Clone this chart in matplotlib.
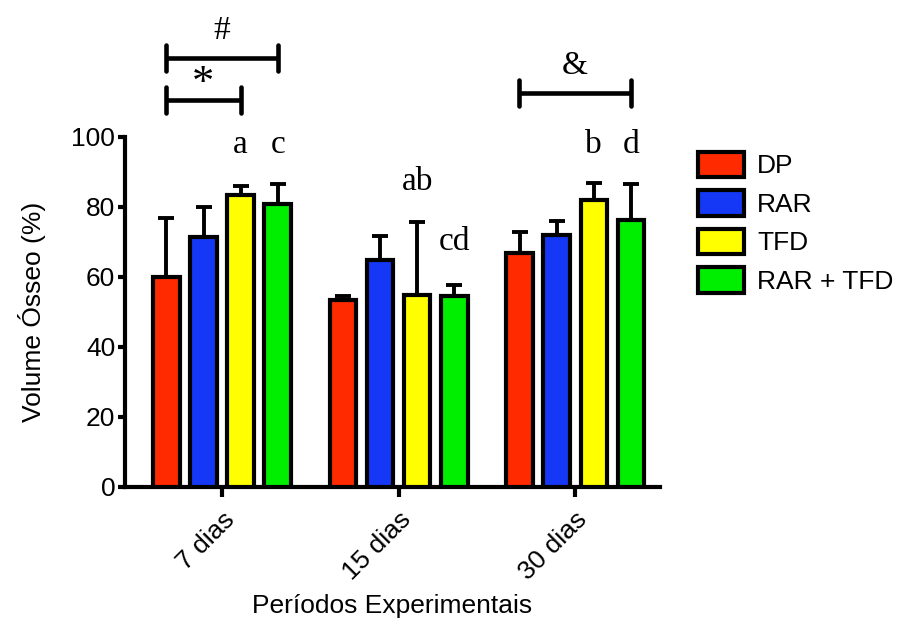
import matplotlib
matplotlib.use("Agg")
import matplotlib.pyplot as plt
import numpy as np

# data
periodos = ["7 dias", "15 dias", "30 dias"]
grupos = ["DP", "RAR", "TFD", "RAR + TFD"]
cores = ["#ff2a00", "#1438f5", "#ffff00", "#00ee00"]
medias = {
    "DP": [60.0, 53.3, 67.0],
    "RAR": [71.4, 65.0, 72.0],
    "TFD": [83.4, 55.0, 82.0],
    "RAR + TFD": [81.0, 54.6, 76.3],
}
erros = {
    "DP": [16.9, 1.2, 6.0],
    "RAR": [8.6, 6.7, 4.0],
    "TFD": [2.6, 20.7, 5.0],
    "RAR + TFD": [5.6, 3.1, 10.3],
}
# letter, period index, group index, baseline height
letras = [("a", 0, 2, 95.4), ("c", 0, 3, 95.4), ("ab", 1, 2, 85.0),
          ("cd", 1, 3, 67.7), ("b", 2, 2, 95.4), ("d", 2, 3, 95.4)]

plt.rcParams["font.family"] = ["Liberation Sans", "DejaVu Sans"]
fig = plt.figure(figsize=(9.03, 6.37), dpi=100)
ax = fig.add_axes([125/903, 1-487/637, 535/903, 350/637])

x = np.arange(len(periodos))
passo = 0.21
larg = 0.15
offs = (np.arange(len(grupos)) - 1.5) * passo

barras = []
for i, g in enumerate(grupos):
    xs = x + offs[i]
    b = ax.bar(xs, medias[g], larg, color=cores[i], edgecolor="black", linewidth=3, zorder=3, label=g)
    barras.append(b)
    ax.errorbar(xs, medias[g], yerr=[np.zeros(3), erros[g]], fmt="none", ecolor="black",
                elinewidth=2.8, capsize=6, capthick=2.8, zorder=2)

serif = ["Liberation Serif", "DejaVu Serif"]
for txt, p, gi, yy in letras:
    ax.text(x[p] + offs[gi], yy, txt, ha="center", va="baseline", fontsize=24, family=serif)

# brackets
def colchete(x0, x1, y, txt, ty, fs=24):
    ax.plot([x0, x1], [y, y], color="black", lw=3.3, clip_on=False, solid_capstyle="butt")
    for xx in (x0, x1):
        ax.plot([xx, xx], [y - 3.7, y + 3.7], color="black", lw=3.3, clip_on=False,
                solid_capstyle="round")
    ax.text((x0 + x1) / 2, ty, txt, ha="center", va="center", fontsize=fs, family=serif, clip_on=False)

colchete(x[0] + offs[0] - 0.005, x[0] + offs[3], 122.6, "#", 130.3)
colchete(x[0] + offs[0] - 0.005, x[0] + offs[2], 110.6, "*", 115.0, fs=32)
colchete(x[2] + offs[0] - 0.005, x[2] + offs[3], 112.6, "&", 120.3)

ax.set_xlim(-0.55, 2.48)
ax.set_ylim(0, 100)
ax.set_yticks([0, 20, 40, 60, 80, 100])
ax.set_xticks(x)
ax.set_xticklabels(periodos, rotation=45, ha="right", rotation_mode="anchor")
ax.tick_params(axis="both", labelsize=19, width=3, direction="out")
ax.tick_params(axis="y", length=5, pad=2)
ax.tick_params(axis="x", length=7, pad=8)
for s in ["top", "right"]:
    ax.spines[s].set_visible(False)
for s in ["left", "bottom"]:
    ax.spines[s].set_linewidth(3)
ax.set_ylabel("Volume Ósseo (%)", fontsize=19, labelpad=18)
ax.set_xlabel("Períodos Experimentais", fontsize=19)
ax.xaxis.set_label_coords(0.5, -0.305)

fig.legend(handles=barras, labels=grupos, loc="upper left", bbox_to_anchor=(674/903, 1-128/637),
           frameon=False, fontsize=19, handlelength=1.75, handleheight=1.1, labelspacing=0.45,
           handletextpad=0.5)

fig.savefig("out.png", dpi=100)
